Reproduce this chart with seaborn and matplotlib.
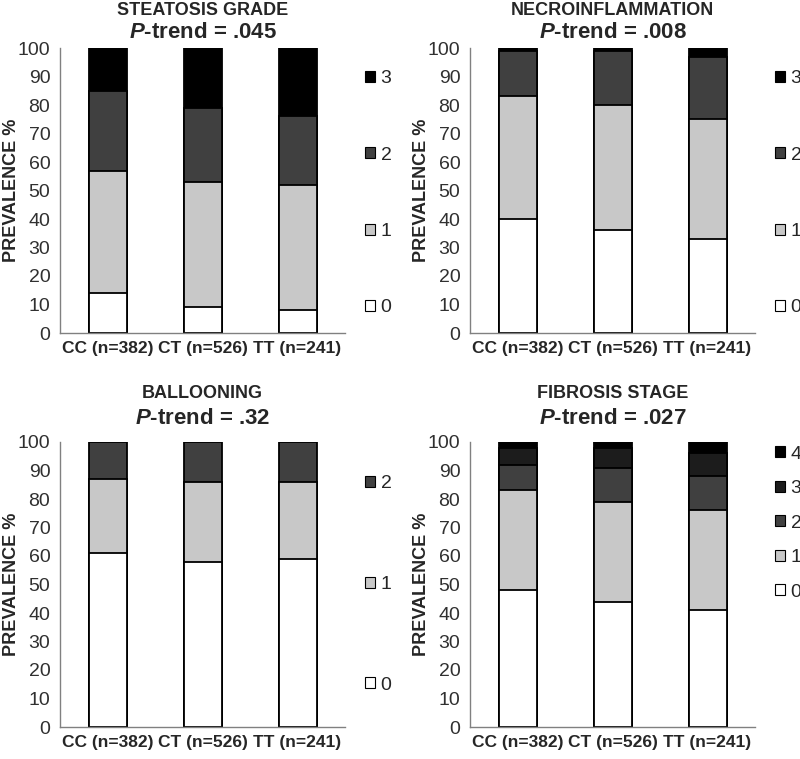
import matplotlib
matplotlib.use("Agg")
import matplotlib.pyplot as plt
from matplotlib.patches import Patch
import seaborn as sns

# -----------------------------
# Данные (проценты по уровням, снизу вверх)
# -----------------------------
genotypes = ["CC (n=382)", "CT (n=526)", "TT (n=241)"]

steatosis = [[14, 9, 8], [43, 44, 44], [28, 26, 24], [15, 21, 24]]
necro     = [[40, 36, 33], [43, 44, 42], [16, 19, 22], [1, 1, 3]]
balloon   = [[61, 58, 59], [26, 28, 27], [13, 14, 14]]
fibrosis  = [[48, 44, 41], [35, 35, 35], [9, 12, 12], [6, 7, 8], [2, 2, 4]]

titles   = ["STEATOSIS GRADE", "NECROINFLAMMATION", "BALLOONING", "FIBROSIS STAGE"]
p_trends = [".045", ".008", ".32", ".027"]

colors4 = ["#ffffff", "#c8c8c8", "#404040", "#000000"]
colors3 = ["#ffffff", "#c8c8c8", "#404040"]
colors5 = ["#ffffff", "#c8c8c8", "#404040", "#1c1c1c", "#000000"]

sns.set_style("white")
plt.rcParams["font.family"] = ["Liberation Sans", "DejaVu Sans"]
plt.rcParams["mathtext.fontset"] = "custom"
plt.rcParams["mathtext.it"] = "Liberation Sans:italic:bold"
plt.rcParams["mathtext.rm"] = "Liberation Sans:bold"

W, H = 800, 759
fig = plt.figure(figsize=(W / 100, H / 100), dpi=100)


def px_axes(left, top, width, height):
    return fig.add_axes([left / W, 1 - (top + height) / H, width / W, height / H])


panels = [
    # данные, цвета, (left, top), смещения заголовка, интервал легенды, центр легенды
    (steatosis, colors4, (60, 48), (38, 16), 3.05, 0.49),
    (necro,     colors4, (470, 48), (38, 16), 3.05, 0.49),
    (balloon,   colors3, (60, 442), (49, 24), 4.3, 0.50),
    (fibrosis,  colors5, (470, 442), (49, 24), 0.9, 0.715),
]

for i, (levels, cols, (left, top), (dy1, dy2), lspace, lcenter) in enumerate(panels):
    ax = px_axes(left, top, 285, 285)

    # кумулятивные суммы; рисуем сверху вниз, чтобы нижние слои перекрывали
    cum = []
    run = [0, 0, 0]
    for lev in levels:
        run = [a + b for a, b in zip(run, lev)]
        cum.append(run)
    for k in range(len(levels) - 1, -1, -1):
        sns.barplot(x=genotypes, y=cum[k], color=cols[k], saturation=1,
                    width=0.4, edgecolor="black", linewidth=1.3, ax=ax)

    ax.set_ylim(0, 100)
    ax.set_xlim(-0.5, 2.5)
    ax.set_yticks(range(0, 101, 10))
    ax.tick_params(axis="y", labelsize=14, length=5, color="#808080",
                   labelcolor="#303030", pad=2)
    ax.tick_params(axis="x", which="major", length=0, labelsize=12.5, pad=6)
    ax.set_xticks([-0.5, 0.5, 1.5, 2.5], minor=True)
    ax.tick_params(axis="x", which="minor", length=5, color="#808080")
    for lab in ax.get_xticklabels():
        lab.set_fontweight("bold")
    ax.set_xlabel("")
    ax.set_ylabel("PREVALENCE %", fontsize=13, fontweight="bold")
    ax.yaxis.set_label_coords(-40 / 285, 0.5)

    for side in ["top", "right"]:
        ax.spines[side].set_visible(False)
    for side in ["left", "bottom"]:
        ax.spines[side].set_color("#808080")
        ax.spines[side].set_linewidth(1.0)

    ax.text(0.5, 1 + dy1 / 285, titles[i], transform=ax.transAxes,
            ha="center", va="center", fontsize=13, fontweight="bold")
    ax.text(0.5, 1 + dy2 / 285, r"$\mathit{P}$-trend = " + p_trends[i],
            transform=ax.transAxes, ha="center", va="center",
            fontsize=16, fontweight="bold")

    handles = [Patch(facecolor=cols[k], edgecolor="black", linewidth=0.8,
                     label=str(k)) for k in range(len(levels) - 1, -1, -1)]
    ax.legend(handles=handles, loc="center left",
              bbox_to_anchor=(1.07, lcenter), frameon=False, fontsize=14,
              handlelength=0.5, handleheight=0.5, handletextpad=0.3,
              labelspacing=lspace, borderaxespad=0, borderpad=0)

fig.savefig("out.png", dpi=100)
